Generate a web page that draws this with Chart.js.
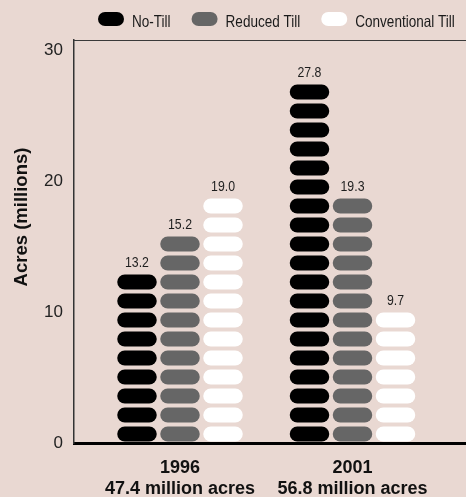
<!DOCTYPE html>
<html>
<head>
<meta charset="utf-8">
<script src="https://cdn.jsdelivr.net/npm/chart.js@4/dist/chart.umd.min.js"></script>
<style>
  html, body { margin: 0; padding: 0; background: #e9d8d2; }
  canvas { display: block; }
</style>
</head>
<body>
<canvas id="c" width="466" height="497"></canvas>
<script>
// Acreage by tillage practice, millions of acres
const years = ['1996', '2001'];
const totals = ['47.4 million acres', '56.8 million acres'];
const seriesNames = ['No-Till', 'Reduced Till', 'Conventional Till'];
const noTill = [13.2, 27.8];
const reducedTill = [15.2, 19.3];
const conventionalTill = [19.0, 9.7];
const yTicks = [0, 10, 20, 30];

const SANS = "'Liberation Sans', Arial, sans-serif";
const seriesColors = ['#000000', '#666666', '#ffffff'];
const CONDENSE = 0.82; // horizontal squeeze for the condensed-looking labels

// Each bar is drawn as a column of rounded "pills"
const PILL_H = 15;
const PILL_GAP = 4;
const PITCH = PILL_H + PILL_GAP;

function condensedText(ctx, text, x, y, align) {
  ctx.save();
  ctx.translate(x, y);
  ctx.scale(CONDENSE, 1);
  ctx.textAlign = align;
  ctx.fillText(text, 0, 0);
  ctx.restore();
}

const pillBars = {
  id: 'pillBars',
  beforeDatasetDraw(chart, args) {
    const ctx = chart.ctx;
    const ds = chart.data.datasets[args.index];
    const zero = chart.scales.y.getPixelForValue(0);
    const axisHalf = 1.5;
    const base = zero - axisHalf;
    ctx.save();
    args.meta.data.forEach((bar, i) => {
      const p = bar.getProps(['x', 'y', 'width'], true);
      const h = zero - p.y;
      // a pill is shown when its middle lies at or below the bar's value
      let n = 0;
      while (axisHalf + n * PITCH + PILL_H / 2 <= h + 1.5) n++;
      ctx.fillStyle = ds.backgroundColor;
      for (let k = 0; k < n; k++) {
        const bottom = base - k * PITCH;
        ctx.beginPath();
        ctx.roundRect(p.x - p.width / 2, bottom - PILL_H, p.width, PILL_H, PILL_H / 2);
        ctx.fill();
      }
      const top = base - (n - 1) * PITCH - PILL_H;
      ctx.fillStyle = '#1e1e1e';
      ctx.font = '15px ' + SANS;
      ctx.textBaseline = 'middle';
      condensedText(ctx, ds.data[i].y.toFixed(1), p.x, top - 11.5, 'center');
    });
    ctx.restore();
    return false;
  }
};

// Legend row, y-axis title and the frame's top edge
const decorations = {
  id: 'decorations',
  afterDraw(chart) {
    const ctx = chart.ctx;
    const area = chart.chartArea;
    ctx.save();

    ctx.strokeStyle = '#3a3a3a';
    ctx.lineWidth = 1;
    ctx.beginPath();
    ctx.moveTo(area.left, area.top + 0.5);
    ctx.lineTo(area.right, area.top + 0.5);
    ctx.stroke();

    ctx.font = '16.5px ' + SANS;
    ctx.textBaseline = 'alphabetic';
    let x = 98;
    chart.data.datasets.forEach(ds => {
      ctx.fillStyle = ds.backgroundColor;
      ctx.beginPath();
      ctx.roundRect(x, 12, 26, 14, 7);
      ctx.fill();
      x += 34;
      ctx.fillStyle = '#1a1a1a';
      condensedText(ctx, ds.label, x, 27, 'left');
      x += ctx.measureText(ds.label).width * CONDENSE + 21;
    });

    ctx.translate(area.left - 52, area.top + 177);
    ctx.rotate(-Math.PI / 2);
    ctx.font = 'bold 18.5px ' + SANS;
    ctx.fillStyle = '#111';
    ctx.textAlign = 'center';
    ctx.textBaseline = 'middle';
    ctx.fillText('Acres (millions)', 0, 0);
    ctx.restore();
  }
};

const seriesValues = [noTill, reducedTill, conventionalTill];

new Chart(document.getElementById('c'), {
  type: 'bar',
  data: {
    datasets: seriesNames.map((name, s) => ({
      label: name,
      data: seriesValues[s].map((v, i) => ({ x: i, y: v })),
      backgroundColor: seriesColors[s],
      categoryPercentage: 0.748,
      barPercentage: 0.9186
    }))
  },
  options: {
    responsive: false,
    animation: false,
    devicePixelRatio: 1,
    events: [],
    layout: { padding: { top: 40, left: 0, right: 0, bottom: 0 } },
    plugins: {
      legend: { display: false },
      tooltip: { enabled: false }
    },
    scales: {
      x: {
        type: 'linear',
        offset: false,
        bounds: 'data',
        min: -0.6145,
        max: 1.658,
        afterBuildTicks(scale) { scale.ticks = years.map((_, i) => ({ value: i })); },
        afterFit(scale) { scale.height = 54; },
        grid: { display: false, drawTicks: false, offset: false },
        border: { display: true, color: '#000', width: 3 },
        ticks: {
          color: '#111',
          padding: 15,
          maxRotation: 0,
          autoSkip: false,
          font: { family: SANS, size: 18, weight: 'bold', lineHeight: 1.14 },
          callback: (v) => (years[v] !== undefined ? [years[v], totals[v]] : '')
        }
      },
      y: {
        min: 0,
        max: 30.76,
        afterBuildTicks(scale) { scale.ticks = yTicks.map(v => ({ value: v })); },
        afterFit(scale) { scale.width = 74; },
        grid: { display: false, drawTicks: false },
        border: { display: true, color: '#333', width: 1.5 },
        ticks: {
          color: '#222',
          padding: 11,
          font: { family: SANS, size: 17 }
        }
      }
    }
  },
  plugins: [pillBars, decorations]
});
</script>
</body>
</html>
